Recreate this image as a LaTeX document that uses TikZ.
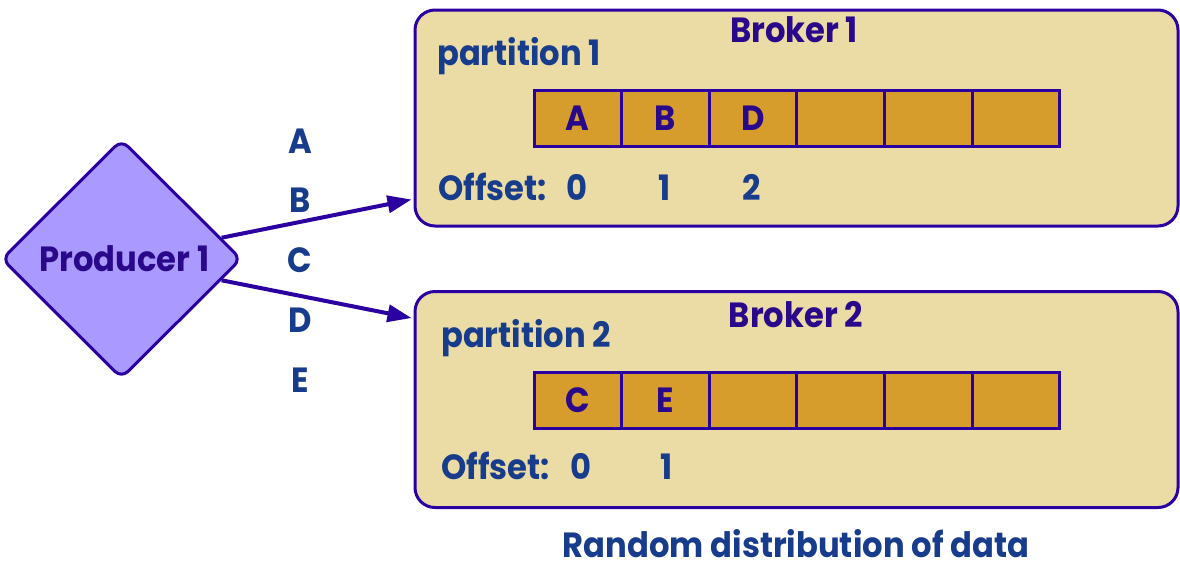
\documentclass[tikz,border=0pt]{standalone}
\usepackage{fontspec}
\setmainfont{Poppins}[FakeStretch=0.92]
\usetikzlibrary{shapes.geometric,arrows.meta,calc}
\definecolor{edge}{RGB}{42,0,160}
\definecolor{boxfill}{RGB}{235,220,166}
\definecolor{cellfill}{RGB}{214,157,45}
\definecolor{diafill}{RGB}{170,153,255}
\definecolor{lblue}{RGB}{24,60,140}
\definecolor{purp}{RGB}{42,8,140}
\tikzset{
  big/.style={font=\fontsize{35}{40}\selectfont\bfseries},
  broker/.style={draw=edge, fill=boxfill, line width=3pt, rounded corners=20pt,
    minimum width=763pt, minimum height=216pt, inner sep=0pt},
  cell/.style={draw=edge, fill=cellfill, line width=3pt, minimum width=87.6pt,
    minimum height=56pt, inner sep=0pt, big, text=purp, text height=25pt, text depth=0pt},
  lbl/.style={big, text=lblue, inner sep=0pt},
  plbl/.style={big, text=purp, inner sep=0pt},
  arr/.style={draw=edge, line width=4pt, -{Triangle[length=24pt,width=17pt]}},
  prodbox/.style={diamond, draw=edge, fill=diafill, line width=3pt, rounded corners=9pt,
    minimum width=240pt, minimum height=239pt, inner sep=0pt, aspect=1,
    big, text=purp, text height=25pt, text depth=0pt}
}
\begin{document}
\begin{tikzpicture}[x=1pt,y=-1pt]
\useasboundingbox (0,0) rectangle (1180,571);
% brokers
\node[broker] (b1) at (796.5,118) {};
\node[broker] (b2) at (796.5,399.5) {};
% cells
\foreach \i/\t in {1/A,2/B,3/D,4/,5/,6/} {
  \node[cell] (c1\i) at ({534+87.6*(\i-0.5)},118) {\t};
}
\foreach \i/\t in {1/C,2/E,3/,4/,5/,6/} {
  \node[cell] (c2\i) at ({534+87.6*(\i-0.5)},400) {\t};
}
% broker texts
\node[plbl, anchor=base] (bk1) at (794,42) {Broker 1};
\node[plbl, anchor=base] (bk2) at (796,327) {Broker 2};
\node[lbl, anchor=base west] (p1) at (437,65) {partition 1};
\node[lbl, anchor=base west] (p2) at (441,347) {partition 2};
\node[lbl, anchor=base west] (of1) at (438,200) {Offset:};
\node[lbl, anchor=base west] (of2) at (441,479) {Offset:};
\node[lbl, anchor=base] (o10) at (577,200) {0};
\node[lbl, anchor=base] (o11) at (665,200) {1};
\node[lbl, anchor=base] (o12) at (752,200) {2};
\node[lbl, anchor=base] (o20) at (581,479) {0};
\node[lbl, anchor=base] (o21) at (667,479) {1};
% producer
\node[prodbox] (prod) at (121.5,259) {\hspace{6pt}Producer 1};
% letters
\node[lbl, anchor=base] (la) at (300,153) {A};
\node[lbl, anchor=base] (lb) at (300,212) {B};
\node[lbl, anchor=base] (lc) at (300,272) {C};
\node[lbl, anchor=base] (ld) at (300,332) {D};
\node[lbl, anchor=base] (le) at (300,392) {E};
% arrows
\draw[arr] (prod.12.5) -- ($(b1.south west)+(-2,-28)$);
\draw[arr] (prod.-12.5) -- ($(b2.north west)+(-2,28)$);
% caption
\node[lbl, anchor=base] (cap) at (796,557) {Random distribution of data};
\end{tikzpicture}
\end{document}
